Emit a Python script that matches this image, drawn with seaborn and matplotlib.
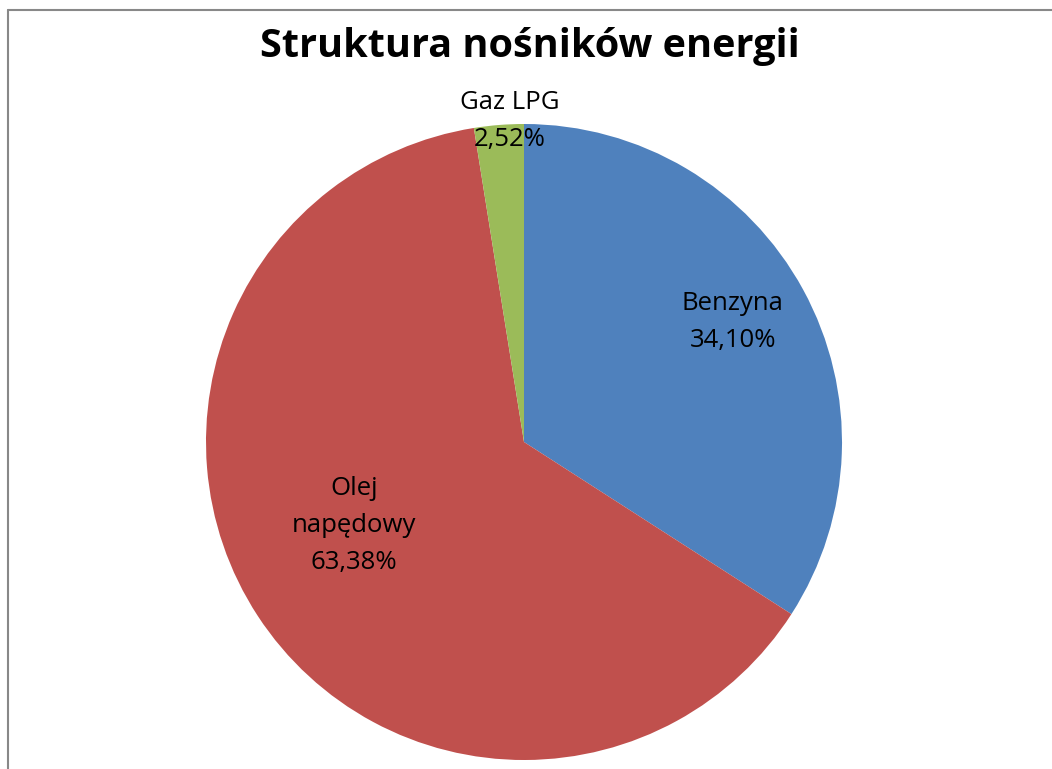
import numpy as np
import matplotlib
matplotlib.use("Agg")
import matplotlib.pyplot as plt
import seaborn as sns
from matplotlib.lines import Line2D

categories = ["Benzyna", "Olej\nnapędowy", "Gaz LPG"]
values = [34.10, 63.38, 2.52]
value_labels = ["34,10%", "63,38%", "2,52%"]
title = "Struktura nośników energii"

sns.set_theme(style="white")
plt.rcParams['font.family'] = ['Open Sans', 'DejaVu Sans']

colors = sns.color_palette(["#4F81BD", "#C0504D", "#9BBB59"])

W, H = 1052, 769
fig = plt.figure(figsize=(W / 100, H / 100), dpi=100)
fig.patch.set_facecolor("white")

# pie axes: center (524, 442) px, radius 318 px
cx, cy, r = 524, 442, 318
ax = fig.add_axes([(cx - r) / W, (H - cy - r) / H, 2 * r / W, 2 * r / H])
wedges, _ = ax.pie(values, colors=colors, startangle=90, counterclock=False,
                   radius=1.0, wedgeprops=dict(linewidth=0))
ax.set_xlim(-1, 1)
ax.set_ylim(-1, 1)
ax.set_aspect("equal")
ax.axis("off")

# label placement (angle offsets / radius fractions are styling)
label_r = [0.758, 0.595, 1.01]
label_da = [1.3, -7.0, -2.0]
for w, cat, vl, lr, da in zip(wedges, categories, value_labels, label_r, label_da):
    mid = np.deg2rad((w.theta1 + w.theta2) / 2 + da)
    x, y = lr * np.cos(mid), lr * np.sin(mid)
    ax.text(x, y, f"{cat}\n{vl}", ha="center", va="center", fontsize=18.5,
            color="black", linespacing=1.62)

fig.text(530 / W, 1 - 46 / H, title, ha="center", va="center",
         fontsize=28.5, fontweight="bold", color="black")

# partial border (chart area frame)
fig.add_artist(Line2D([8 / W, 8 / W], [0, 1 - 10 / H], transform=fig.transFigure,
                      color="#888888", linewidth=1.5))
fig.add_artist(Line2D([8 / W, 1], [1 - 10 / H, 1 - 10 / H], transform=fig.transFigure,
                      color="#888888", linewidth=1.5))

fig.savefig("out.png", dpi=100, facecolor="white")
